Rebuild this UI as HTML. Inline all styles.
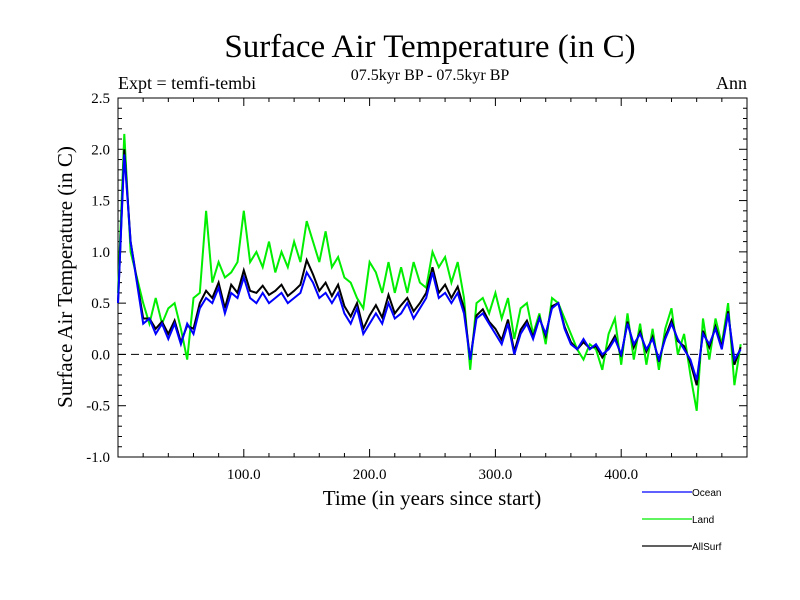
<!DOCTYPE html>
<html><head><meta charset="utf-8"><style>
body{margin:0;background:#fff}
svg{display:block;font-family:"Liberation Serif",serif}
</style></head><body>
<svg id="chart" width="800" height="600">
<text x="430" y="57" font-size="33" text-anchor="middle">Surface Air Temperature (in C)</text>
<text x="430" y="80" font-size="16" text-anchor="middle">07.5kyr BP - 07.5kyr BP</text>
<text x="118" y="89" font-size="18">Expt = temfi-tembi</text>
<text x="747" y="89" font-size="18" text-anchor="end">Ann</text>
<text x="432" y="505" font-size="21" text-anchor="middle">Time (in years since start)</text>
<text transform="translate(72,277) rotate(-90)" font-size="21" text-anchor="middle">Surface Air Temperature (in C)</text>
<g id="axes"></g>
<g id="series"></g>
<g id="legend" font-family="Liberation Sans, sans-serif" font-size="10"></g>
</svg>
<script>
const years = [];
for (let i = 0; i < 100; i++) years.push(i * 5);
const ocean = [0.5,1.95,1.1,0.7,0.3,0.35,0.2,0.3,0.15,0.3,0.1,0.3,0.2,0.45,0.55,0.5,0.65,0.4,0.6,0.55,0.75,0.55,0.5,0.6,0.5,0.55,0.6,0.5,0.55,0.6,0.8,0.7,0.55,0.6,0.5,0.6,0.4,0.3,0.45,0.2,0.3,0.4,0.3,0.5,0.35,0.4,0.5,0.35,0.45,0.55,0.8,0.55,0.6,0.5,0.6,0.4,-0.05,0.35,0.4,0.3,0.2,0.1,0.3,0.0,0.2,0.3,0.15,0.35,0.2,0.45,0.5,0.25,0.1,0.05,0.15,0.05,0.1,0.0,0.05,0.15,0.0,0.3,0.1,0.2,0.05,0.15,-0.05,0.15,0.3,0.15,0.05,-0.05,-0.25,0.2,0.1,0.25,0.05,0.4,-0.05,0.05];
const land = [0.6,2.15,1.0,0.75,0.5,0.3,0.55,0.3,0.45,0.5,0.25,-0.05,0.55,0.6,1.4,0.7,0.9,0.75,0.8,0.9,1.4,0.9,1.0,0.85,1.1,0.8,1.0,0.85,1.1,0.9,1.3,1.1,0.9,1.2,0.85,0.95,0.75,0.7,0.55,0.45,0.9,0.8,0.6,0.9,0.6,0.85,0.6,0.9,0.7,0.65,1.0,0.85,0.95,0.7,0.9,0.55,-0.15,0.5,0.55,0.4,0.6,0.35,0.55,0.15,0.45,0.5,0.2,0.4,0.1,0.55,0.5,0.35,0.2,0.05,-0.05,0.1,0.05,-0.15,0.2,0.35,-0.1,0.4,-0.05,0.3,-0.1,0.25,-0.15,0.25,0.45,0.0,0.2,-0.2,-0.55,0.35,-0.05,0.35,0.1,0.5,-0.3,0.1];
const allSurf = [0.5,2.0,1.1,0.72,0.35,0.35,0.25,0.32,0.2,0.33,0.12,0.28,0.25,0.5,0.62,0.55,0.7,0.45,0.68,0.6,0.82,0.62,0.6,0.67,0.58,0.62,0.68,0.57,0.62,0.68,0.92,0.78,0.62,0.7,0.57,0.68,0.47,0.37,0.5,0.25,0.38,0.48,0.36,0.58,0.4,0.48,0.55,0.42,0.5,0.6,0.85,0.6,0.68,0.55,0.66,0.45,-0.05,0.38,0.44,0.32,0.25,0.14,0.34,0.03,0.24,0.33,0.17,0.36,0.18,0.47,0.5,0.27,0.12,0.05,0.12,0.06,0.08,-0.03,0.07,0.18,-0.02,0.32,0.07,0.22,0.03,0.17,-0.07,0.17,0.33,0.13,0.08,-0.08,-0.3,0.23,0.07,0.27,0.07,0.42,-0.1,0.07];
const yTicks = [2.5,2.0,1.5,1.0,0.5,0.0,-0.5,-1.0];
const yTickLabels = ["2.5","2.0","1.5","1.0","0.5","0.0","-0.5","-1.0"];
const xTicks = [100,200,300,400];
const xTickLabels = ["100.0","200.0","300.0","400.0"];

const X0=118,X1=747,Y0=98,Y1=457;
const xs = v => X0 + (v-0)/(500-0)*(X1-X0);
const ys = v => Y1 - (v-(-1))/(2.5-(-1))*(Y1-Y0);
const NS="http://www.w3.org/2000/svg";
function mk(tag, attrs, parent){const e=document.createElementNS(NS,tag);for(const k in attrs)e.setAttribute(k,attrs[k]);parent.appendChild(e);return e;}
const axes=document.getElementById('axes');
const frame=mk('rect',{x:X0,y:Y0,width:X1-X0,height:Y1-Y0,fill:'none',stroke:'#000','stroke-width':1},axes);


// y minor ticks
for(let v=-1;v<=2.5001;v+=0.1){
  const y=ys(v); const major=Math.abs(v*2-Math.round(v*2))<1e-6;
  const len=major?8:4;
  mk('line',{x1:X0,y1:y,x2:X0+len,y2:y,stroke:'#000'},axes);
  mk('line',{x1:X1,y1:y,x2:X1-len,y2:y,stroke:'#000'},axes);
}
for(let v=20;v<500;v+=20){
  const x=xs(v); const major=v%100===0; const len=major?8:4;
  mk('line',{x1:x,y1:Y1,x2:x,y2:Y1-len,stroke:'#000'},axes);
  mk('line',{x1:x,y1:Y0,x2:x,y2:Y0+len,stroke:'#000'},axes);
}
yTicks.forEach((v,i)=>{const t=mk('text',{x:X0-8,y:ys(v)+5,'font-size':15,'text-anchor':'end'},axes);t.textContent=yTickLabels[i];

});
xTicks.forEach((v,i)=>{const t=mk('text',{x:xs(v),y:Y1+22,'font-size':15,'text-anchor':'middle'},axes);t.textContent=xTickLabels[i];

});
const zl=mk('line',{x1:X0,y1:ys(0),x2:X1,y2:ys(0),stroke:'#000','stroke-dasharray':'8,5'},axes);


const ser=document.getElementById('series');
function drawLine(arr,color,name){
  const d=arr.map((v,i)=>(i?'L':'M')+xs(years[i]).toFixed(1)+','+ys(v).toFixed(1)).join('');
  const p=mk('path',{d:d,fill:'none',stroke:color,'stroke-width':2},ser);
  
  
}
drawLine(land,'#00ee00','land-line');
drawLine(allSurf,'#000000','allsurf-line');
drawLine(ocean,'#0000ff','ocean-line');
const lg=document.getElementById('legend');
[['Ocean','#0000ff',492],['Land','#00ee00',519],['AllSurf','#000000',546]].forEach(([n,c,y])=>{
  const g=mk('g',{},lg);
  
  
  mk('line',{x1:642,y1:y,x2:692,y2:y,stroke:c,'stroke-width':1.2},g);
  const t=mk('text',{x:692,y:y+4},g);t.textContent=n;
});
</script>
</body></html>
